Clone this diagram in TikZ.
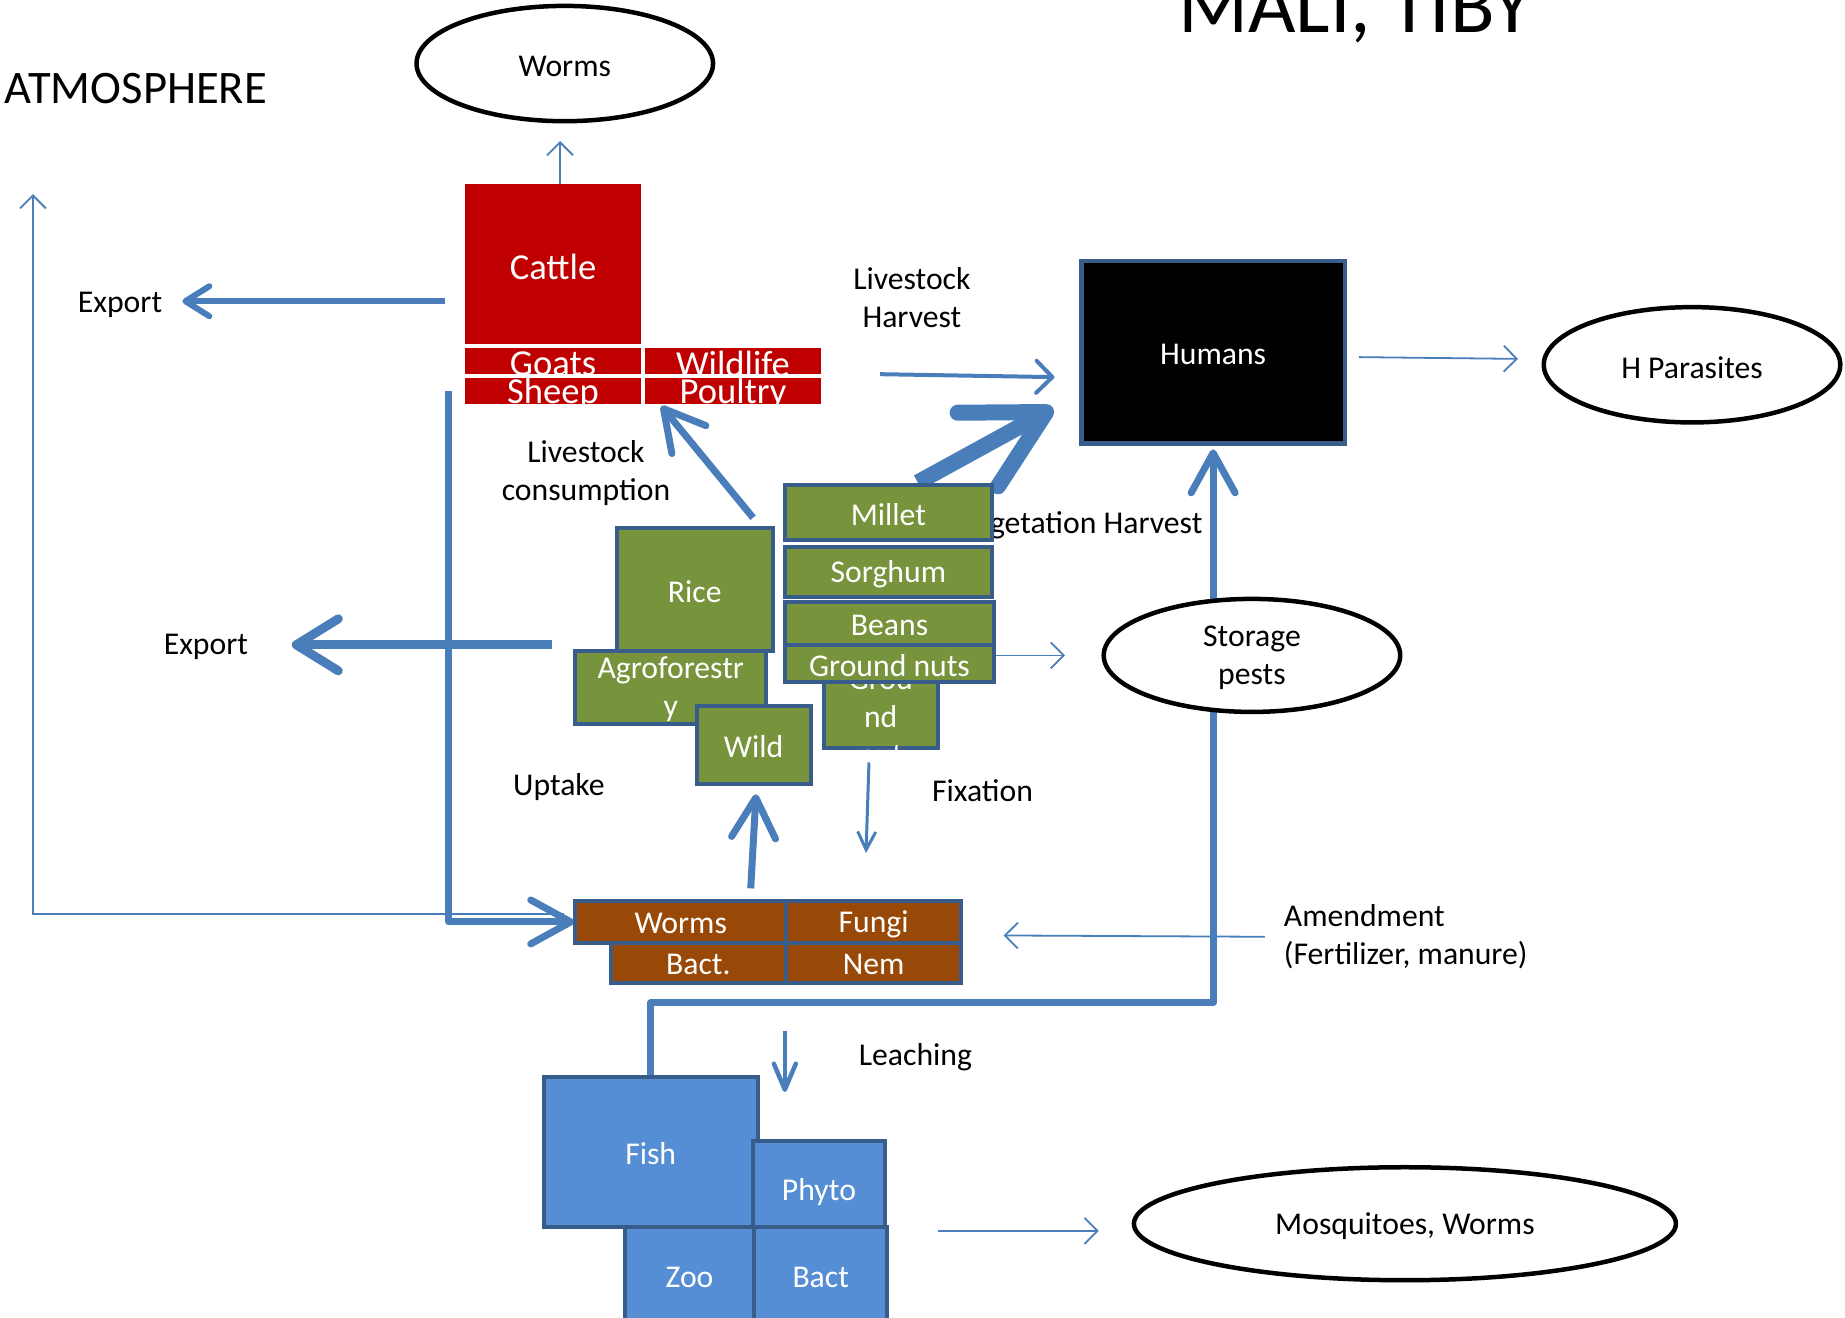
\documentclass[tikz,border=0pt]{standalone}
\usepackage{fontspec}
\setmainfont{Carlito}
\usetikzlibrary{arrows.meta,calc,fit,shapes.geometric}
\definecolor{flow}{HTML}{4A7EBB}
\definecolor{edgeblue}{HTML}{385D8A}
\definecolor{cropgreen}{HTML}{77933C}
\definecolor{herdred}{HTML}{C00000}
\definecolor{soilbrown}{HTML}{984807}
\definecolor{waterblue}{HTML}{558ED5}
\pgfdeclarelayer{back}
\pgfsetlayers{back,main}
\begin{document}
\begin{tikzpicture}[x=1.1767pt,y=-1.1767pt,
  lbl/.style={font=\fontsize{31.7}{38}\selectfont, inner sep=0pt, align=center, yshift=-2.5pt},
  boxtxt/.style={text=white, font=\fontsize{31.7}{38}\selectfont, align=center, inner sep=0pt, yshift=-2pt},
  herdtxt/.style={text=white, font=\fontsize{36.6}{44}\selectfont, inner sep=0pt, yshift=-3pt},
  herdbox/.style={inner sep=0pt, outer sep=0pt, fill=herdred},
  cropbox/.style={inner sep=0pt, outer sep=0pt, fill=cropgreen, draw=edgeblue, line width=4pt},
  soilbox/.style={inner sep=0pt, outer sep=0pt, fill=soilbrown, draw=edgeblue, line width=4pt},
  waterbox/.style={inner sep=0pt, outer sep=0pt, fill=waterblue, draw=edgeblue, line width=4pt},
  oval/.style={ellipse, draw=black, line width=4.5pt, fill=white, inner sep=0pt,
    font=\fontsize{31.7}{38}\selectfont, align=center},
  ovaltxt/.style={font=\fontsize{31.7}{38}\selectfont, align=center, inner sep=0pt, yshift=-2.5pt},
  thinflow/.style={draw=flow, line width=1.8pt, -{Straight Barb[length=13pt,width=26pt]}},
  midflow/.style={draw=flow, line width=4pt, -{Straight Barb[length=16pt,width=32pt,round]}},
  thickflow/.style={draw=flow, line width=7pt, line join=round, -{Straight Barb[length=40pt,width=44pt,round]}},
]
\useasboundingbox (0,0) rectangle (1568,1120);

% titles
\node[font=\fontsize{82}{98}\selectfont, anchor=base, inner sep=0pt] (title) at (1152,28) {MALI, TIBY};
\node[font=\fontsize{46.6}{56}\selectfont, anchor=base west, inner sep=0pt] (atm) at (4,88) {ATMOSPHERE};

% labels
\node[lbl] (exp1) at (102,257) {Export};
\node[lbl] (exp2) at (175,548) {Export};
\node[lbl] (lcons) at (498,400) {Livestock\\consumption};
\node[lbl] (lharv) at (775,251) {Livestock\\Harvest};
\node[lbl, anchor=east] (vharv) at (1022,444) {Vegetation Harvest};
\node[lbl] (uptake) at (475,667) {Uptake};
\node[lbl] (fix) at (835,670) {Fixation};
\node[lbl] (leach) at (778,896) {Leaching};
\node[lbl, anchor=west, align=left] (amend) at (1091,794) {Amendment\\(Fertilizer, manure)};

% ellipses
\node[oval, minimum width=296.5pt, minimum height=115.3pt, label={[ovaltxt]center:Worms}] (wormsE) at (480,54) {};
\node[oval, minimum width=296.5pt, minimum height=115.3pt, label={[ovaltxt]center:H Parasites}] (hpar) at (1438,310) {};
\node[oval, minimum width=296.5pt, minimum height=113pt, label={[ovaltxt]center:Storage\\pests}] (storage) at (1064,557) {};
\node[oval, minimum width=542pt, minimum height=113pt, label={[ovaltxt]center:Mosquitoes, Worms}] (mosq) at (1194,1040) {};

% humans
\node[inner sep=0pt, fill=black, draw=edgeblue, line width=4.5pt, fit={(919,222) (1143,377)},
  label={[boxtxt]center:Humans}] (humans) {};

% livestock
\node[herdbox, fit={(395,156) (545,292)}, label={[herdtxt]center:Cattle}] (cattle) {};
\node[herdbox, fit={(395,296) (545,318)}, label={[herdtxt]center:Goats}] (goats) {};
\node[herdbox, fit={(548,296) (698,318)}, label={[herdtxt]center:Wildlife}] (wildlife) {};
\node[herdbox, fit={(395,321) (545,343)}, label={[herdtxt]center:Sheep}] (sheep) {};
\node[herdbox, fit={(548,321) (698,343)}, label={[herdtxt]center:Poultry}] (poultry) {};

% crops
\node[cropbox, fit={(700,572) (797,636)}, label={[boxtxt, yshift=-5pt]center:Grou\\nd\\nut}] (hidden) {};
\node[cropbox, fit={(667,412) (843,459)}, label={[boxtxt]center:Millet}] (millet) {};
\node[cropbox, fit={(667,465) (843,507)}, label={[boxtxt]center:Sorghum}] (sorghum) {};
\node[cropbox, fit={(667,512) (845,548)}, label={[boxtxt]center:Beans}] (beans) {};
\node[cropbox, fit={(667,548) (845,580)}, label={[boxtxt]center:Ground nuts}] (gnuts) {};
\node[cropbox, fit={(524,449) (657,553)}, label={[boxtxt]center:Rice}] (rice) {};
\node[cropbox, fit={(489,553) (651,615)}, label={[boxtxt]center:Agroforestr\\y}] (agro) {};
\node[cropbox, fit={(592,600) (689,666)}, label={[boxtxt]center:Wild}] (wild) {};

% soil
\node[soilbox, fit={(489,766) (668,801)}, label={[boxtxt]center:Worms}] (sworms) {};
\node[soilbox, fit={(668,766) (817,801)}, label={[boxtxt]center:Fungi}] (fungi) {};
\node[soilbox, fit={(519,801) (668,835)}, label={[boxtxt]center:Bact.}] (sbact) {};
\node[soilbox, fit={(668,801) (817,835)}, label={[boxtxt]center:Nem}] (nem) {};

% water
\node[waterbox, fit={(462,915) (644,1043)}, label={[boxtxt]center:Fish}] (fish) {};
\node[waterbox, fit={(640,970) (752,1043)}, label={[boxtxt, yshift=-6pt]center:Phyto}] (phyto) {};
\node[waterbox, fit={(531,1043) (641,1125)}, label={[boxtxt]center:Zoo}] (zoo) {};
\node[waterbox, fit={(641,1043) (754,1125)}, label={[boxtxt]center:Bact}] (wbact) {};

\coordinate (atmtip) at (28,165);
\coordinate (exp1tip) at (155,256);
\coordinate (exp2tip) at (248,548);

\begin{pgfonlayer}{back}
% cattle -> worms
\draw[thinflow] ($(cattle.north)+(6,0)$) -- ($(wormsE.south)+(-4,15)$);
% export top
\draw[draw=flow, line width=6pt, -{Straight Barb[length=24pt,width=30pt,round]}]
  ($(cattle.west)+(-17,32)$) -- (exp1tip);
% atmosphere thin line
\draw[thinflow] ($(sworms.west)+(-10,-7)$) -| (atmtip);
% livestock to soil
\draw[thickflow] ($(sheep.west)+(-14,0)$) |- ($(sworms.west)+(-1,0)$);
% export middle
\draw[draw=flow, line width=9pt, -{Straight Barb[length=42pt,width=52pt,round]}]
  ($(agro.north west)+(-20,-5)$) -- (exp2tip);
% livestock consumption
\draw[thickflow] ($(rice.north east)+(-17,-9)$) -- ($(poultry.south west)+(14,2)$);
% livestock harvest
\draw[midflow] ($(poultry.east)+(50,-14)$) -- ($(humans.west)+(-21,21)$);
% vegetation harvest
\draw[draw=flow, line width=16pt, -{Straight Barb[length=78pt,width=84pt,round]}]
  ($(millet.north)+(25,-2)$) -- ($(humans.south west)+(-22,-32)$);
% humans -> parasites
\draw[thinflow] ($(humans.east)+(10,4)$) -- ($(hpar.west)+(-20,-5)$);
% ground nuts -> storage
\draw[thinflow] ($(gnuts.east)+(0,-7)$) -- ($(storage.west)+(-31,0)$);
% fish -> humans
\draw[thickflow] (fish.north) -- ++(0,-63) -| ($(humans.south)+(0,3)$);
% uptake
\draw[thickflow] ($(sworms.north east)+(-30,-11)$) -- ($(wild.south)+(2,9)$);
% fixation
\draw[draw=flow, line width=3pt, -{Straight Barb[length=18pt,width=18pt]}]
  ($(hidden.south)+(-10,12)$) -- ($(fungi.north west)+(68,-41)$);
% amendment
\draw[thinflow] ($(amend.west)+(-16,0)$) -- ($(fungi.south east)+(36,-6)$);
% leaching
\draw[draw=flow, line width=4.5pt, -{Straight Barb[length=26pt,width=22pt,round]}]
  ($(nem.south west)+(-1,41)$) -- ($(phyto.north west)+(27,-42)$);
% water -> mosquitoes
\draw[thinflow] ($(wbact.north east)+(43,3)$) -- ($(mosq.west)+(-28,6)$);
\end{pgfonlayer}
\end{tikzpicture}
\end{document}
